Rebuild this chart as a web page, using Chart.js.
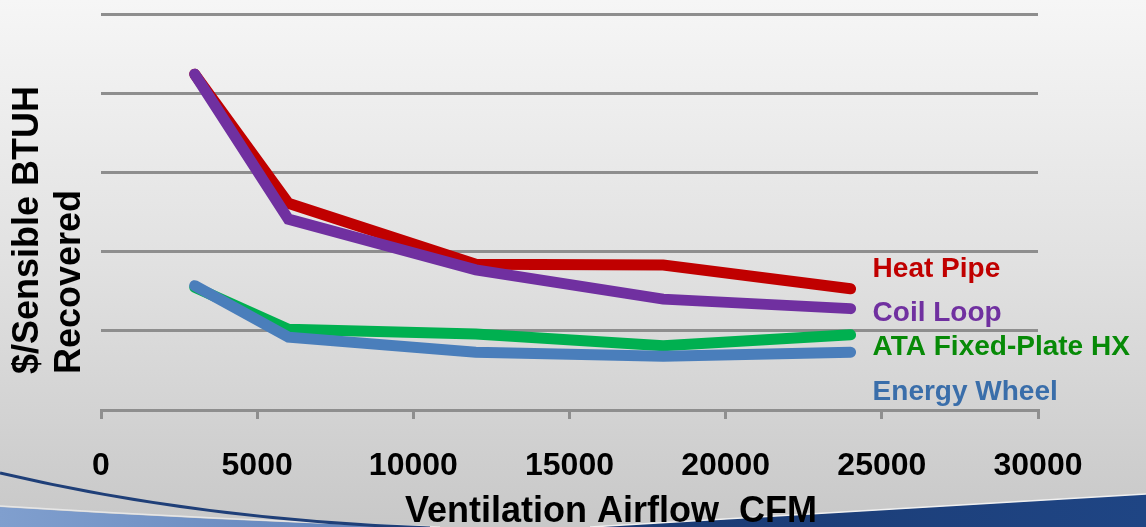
<!DOCTYPE html>
<html>
<head>
<meta charset="utf-8">
<script src="https://cdn.jsdelivr.net/npm/chart.js@4.4.0/dist/chart.umd.min.js"></script>
<style>
  html, body { margin: 0; padding: 0; background: #e4e4e4; }
  #wrap { width: 1146px; height: 527px; }
</style>
</head>
<body>
<div id="wrap"><canvas id="chart" width="1146" height="527"></canvas></div>
<script>
// airflow (CFM) at each measured point
const airflow = [3000, 6000, 12000, 18000, 24000];

// $/sensible BTUH recovered (relative units, no y tick labels in source)
const heatPipe    = [4.24, 2.61, 1.84, 1.83, 1.53];
const coilLoop    = [4.24, 2.41, 1.77, 1.40, 1.28];
const ataPlate    = [1.55, 1.02, 0.96, 0.81, 0.95];
const energyWheel = [1.57, 0.92, 0.73, 0.68, 0.73];

const seriesNames = ["Heat Pipe", "Coil Loop", "ATA Fixed-Plate HX", "Energy Wheel"];
const xTitle = "Ventilation Airflow  CFM";
const yTitle = ["$/Sensible BTUH", "Recovered"];

const FONT = "'Liberation Sans', Arial, sans-serif";

const lineColors  = ["#C00000", "#7030A0", "#00B050", "#4A7EBB"];
const labelColors = ["#C00000", "#7030A0", "#078A07", "#3A6EAA"];
// baseline of each end label, in y-axis units
const labelAnchors = [1.68, 1.12, 0.69, 0.13];

const toPoints = (ys) => ys.map((y, i) => ({ x: airflow[i], y: y }));

const backdrop = {
  id: "backdrop",
  beforeDraw(chart) {
    const { ctx, width, height } = chart;
    ctx.save();
    const g = ctx.createLinearGradient(0, 0, 0, height);
    g.addColorStop(0, "#f6f6f6");
    g.addColorStop(0.5, "#e1e1e1");
    g.addColorStop(1, "#c8c8c8");
    ctx.fillStyle = g;
    ctx.fillRect(0, 0, width, height);

    // light blue swoosh, bottom left
    const lb = ctx.createLinearGradient(0, 500, 400, 527);
    lb.addColorStop(0, "#809fce");
    lb.addColorStop(1, "#6082ba");
    ctx.beginPath();
    ctx.moveTo(0, 507);
    ctx.quadraticCurveTo(220, 521, 440, 528);
    ctx.lineTo(0, 528);
    ctx.closePath();
    ctx.fillStyle = lb;
    ctx.fill();
    ctx.beginPath();
    ctx.moveTo(0, 506);
    ctx.quadraticCurveTo(220, 520, 440, 527);
    ctx.strokeStyle = "#e6e6e6";
    ctx.lineWidth = 1.5;
    ctx.stroke();

    // dark blue curve
    ctx.beginPath();
    ctx.moveTo(0, 473);
    ctx.quadraticCurveTo(200, 520, 430, 528);
    ctx.strokeStyle = "#1f3f78";
    ctx.lineWidth = 3;
    ctx.stroke();

    // dark blue band, bottom right
    const db = ctx.createLinearGradient(600, 0, 1146, 0);
    db.addColorStop(0, "#1a3a72");
    db.addColorStop(1, "#1f4584");
    ctx.beginPath();
    ctx.moveTo(590, 527);
    ctx.quadraticCurveTo(880, 510, 1146, 494);
    ctx.lineTo(1146, 527);
    ctx.closePath();
    ctx.fillStyle = db;
    ctx.fill();
    ctx.beginPath();
    ctx.moveTo(590, 527);
    ctx.quadraticCurveTo(880, 510, 1146, 494);
    ctx.strokeStyle = "#f0f0f0";
    ctx.lineWidth = 1.5;
    ctx.stroke();
    ctx.restore();
  },
  afterDraw(chart) {
    const { ctx } = chart;
    const xs = chart.scales.x, ys = chart.scales.y;
    ctx.save();
    ctx.fillStyle = "#000";
    ctx.font = "bold 36px " + FONT;
    ctx.textAlign = "center";
    ctx.textBaseline = "alphabetic";
    ctx.fillText(xTitle, 611, 522);

    ctx.textAlign = "left";
    ctx.translate(38, 374);
    ctx.rotate(-Math.PI / 2);
    ctx.fillText(yTitle[0], 0, 0);
    ctx.fillText(yTitle[1], 0, 42);
    ctx.restore();

    // end labels
    ctx.save();
    ctx.font = "bold 28px " + FONT;
    ctx.textAlign = "left";
    ctx.textBaseline = "alphabetic";
    const lx = xs.getPixelForValue(airflow[airflow.length - 1]) + 22;
    seriesNames.forEach((name, i) => {
      ctx.fillStyle = labelColors[i];
      ctx.fillText(name, lx, ys.getPixelForValue(labelAnchors[i]));
    });
    ctx.restore();
  }
};

const series = [heatPipe, coilLoop, ataPlate, energyWheel];
// purple drawn over red, blue over green
const drawOrder = [2, 1, 4, 3];

new Chart(document.getElementById("chart").getContext("2d"), {
  type: "line",
  data: {
    datasets: series.map((ys, i) => ({
      label: seriesNames[i],
      data: toPoints(ys),
      borderColor: lineColors[i],
      backgroundColor: lineColors[i],
      borderWidth: 11,
      borderCapStyle: "round",
      borderJoinStyle: "miter",
      pointRadius: 0,
      tension: 0,
      order: drawOrder[i],
    })),
  },
  options: {
    responsive: false,
    animation: false,
    layout: { padding: { top: 14, right: 108, left: 0, bottom: 0 } },
    plugins: {
      legend: { display: false },
      tooltip: { enabled: false },
    },
    scales: {
      x: {
        type: "linear",
        min: 0,
        max: 30000,
        afterFit(scale) { scale.height = 117; },
        ticks: {
          stepSize: 5000,
          padding: 28,
          color: "#000",
          font: { family: FONT, size: 32, weight: "bold" },
          callback: (v) => String(v),
        },
        grid: {
          drawOnChartArea: false,
          drawTicks: true,
          tickLength: 9,
          color: "#8e8e8e",
          lineWidth: 3,
        },
        border: { display: true, color: "#8e8e8e", width: 3 },
      },
      y: {
        min: 0,
        max: 5,
        afterFit(scale) { scale.width = 101; },
        ticks: { display: false, stepSize: 1 },
        grid: { color: "#8e8e8e", lineWidth: 3, drawTicks: false },
        border: { display: false },
      },
    },
  },
  plugins: [backdrop],
});
</script>
</body>
</html>
